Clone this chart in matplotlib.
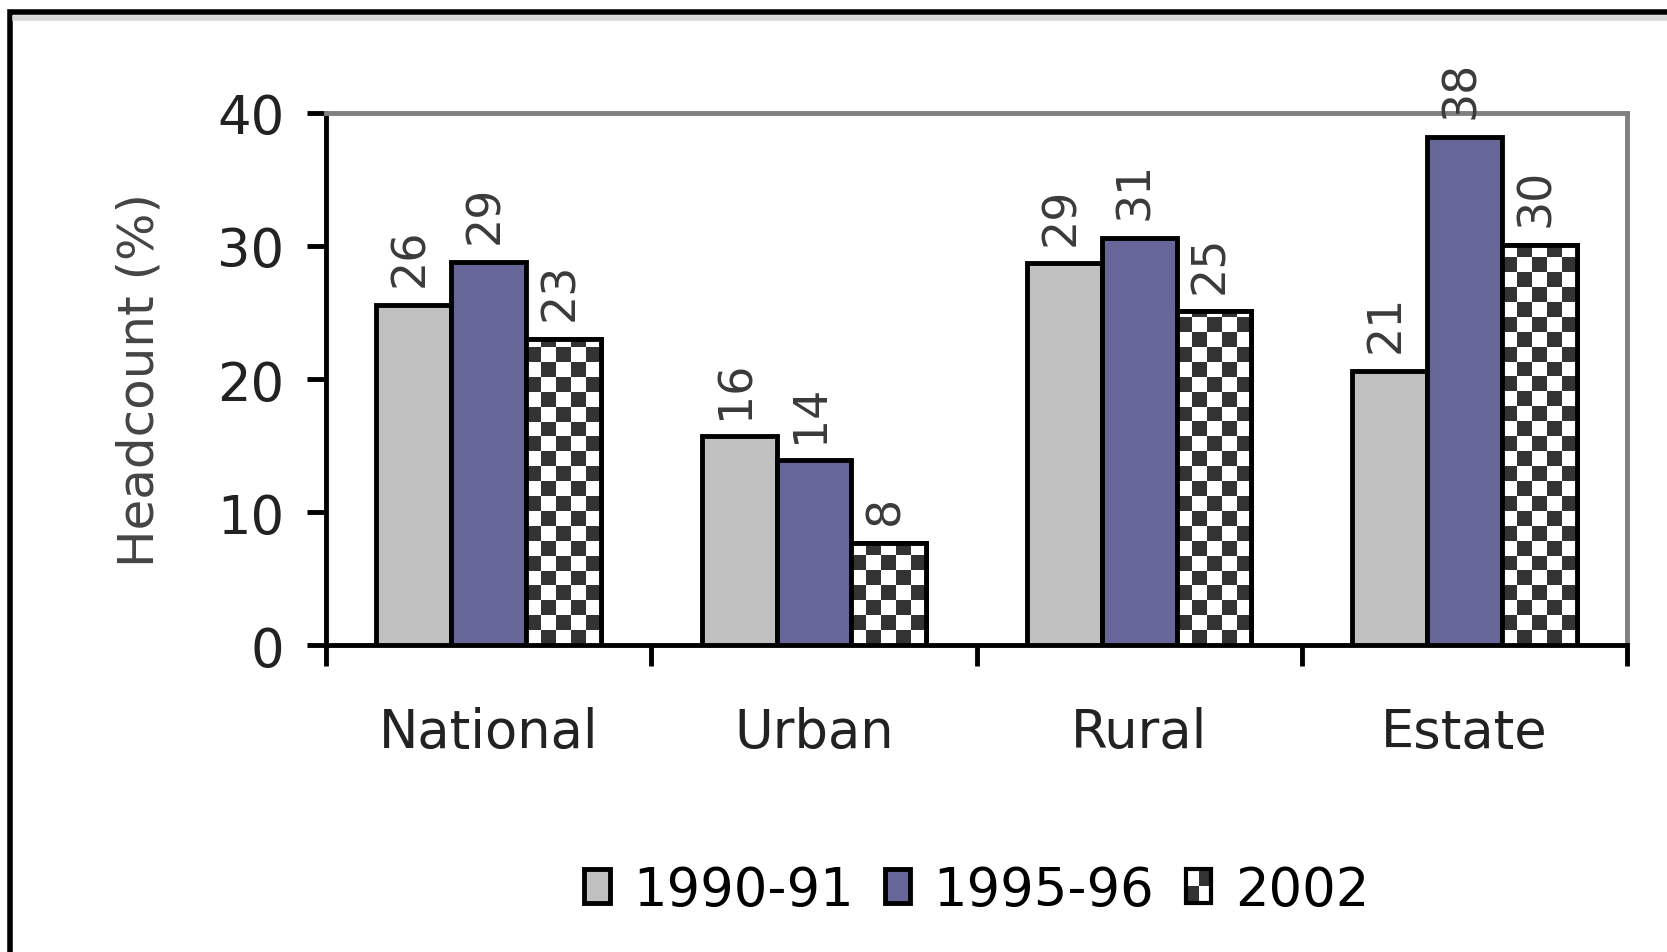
import numpy as np
import matplotlib.pyplot as plt
from matplotlib.patches import Rectangle
from matplotlib.colors import ListedColormap
from matplotlib.legend_handler import HandlerBase

plt.rcParams['font.family'] = ['DejaVu Sans']

categories = ["National", "Urban", "Rural", "Estate"]
series_names = ["1990-91", "1995-96", "2002"]
v_1990 = [25.6, 15.7, 28.7, 20.6]
v_1995 = [28.8, 13.9, 30.6, 38.2]
v_2002 = [23.0, 7.7, 25.1, 30.1]
yticks = [0, 10, 20, 30, 40]

DARK = "#333333"
checker_cmap = ListedColormap(["white", DARK])


class CheckerHandler(HandlerBase):
    # small 2x2 checker square for the legend
    def create_artists(self, legend, orig_handle, xdescent, ydescent, width, height, fontsize, trans):
        x0, y0 = -xdescent, -ydescent
        hw, hh = width / 2, height / 2
        bg = Rectangle((x0, y0), width, height, facecolor="white", lw=0, transform=trans)
        d1 = Rectangle((x0 + hw, y0 + hh), hw, hh, facecolor=DARK, lw=0, transform=trans)
        d2 = Rectangle((x0, y0), hw, hh, facecolor=DARK, lw=0, transform=trans)
        box = Rectangle((x0, y0), width, height, fill=False, edgecolor="black", lw=3, transform=trans)
        return [bg, d1, d2, box]


fig = plt.figure(figsize=(16.67, 9.53), dpi=100)
ax = fig.add_axes([0.1956, 0.3221, 0.7805, 0.5583])

# outer frame of the original picture
fig.patches.append(Rectangle((0.006, -0.05), 1.1, 1.036, transform=fig.transFigure,
                             fill=False, lw=4, edgecolor="black"))
fig.lines.append(plt.Line2D([0.009, 1.0], [0.9805, 0.9805], transform=fig.transFigure,
                            color="#d8d8d8", lw=4))

x = np.arange(len(categories)) + 0.5
w = 0.23
edge = dict(edgecolor="black", linewidth=3.5)

b1 = ax.bar(x - w, v_1990, w, color="#c0c0c0", zorder=3, **edge)
b2 = ax.bar(x, v_1995, w, color="#666699", zorder=3, **edge)
b3 = ax.bar(x + w, v_2002, w, color="white", zorder=3, **edge)

# checkerboard fill for the 2002 bars
row_h = 1.12
for bar in b3:
    bx, by = bar.get_x(), bar.get_y()
    bw, bh = bar.get_width(), bar.get_height()
    ncol = 5
    nrow = int(np.ceil(bh / row_h))
    cb = (np.add.outer(np.arange(nrow), np.arange(ncol)) % 2).astype(float)
    im = ax.imshow(cb, cmap=checker_cmap, extent=(bx, bx + bw, by, by + nrow * row_h),
                   origin="lower", aspect="auto", interpolation="nearest", zorder=3.5)
    im.set_clip_path(bar)
    ax.add_patch(Rectangle((bx, by), bw, bh, fill=False, edgecolor="black", lw=3.5, zorder=4))

for bars, vals in [(b1, v_1990), (b2, v_1995), (b3, v_2002)]:
    for bar, v in zip(bars, vals):
        ax.text(bar.get_x() + bar.get_width() / 2 - 0.01, v + 1.4, f"{v:.0f}", rotation=90,
                ha="center", va="bottom", fontsize=33, color="#3a3a3a", zorder=5)

ax.set_xlim(0, len(categories))
ax.set_ylim(0, 40)
ax.set_yticks(yticks)
ax.set_yticklabels([str(t) for t in yticks], fontsize=38, color="#222222")
ax.set_xticks(np.arange(len(categories) + 1))
ax.set_xticklabels([])
ax.set_xticks(x, minor=True)
ax.set_xticklabels(categories, minor=True, fontsize=38, color="#222222")
ax.tick_params(axis="x", which="major", direction="out", length=15, width=3.5, color="black")
ax.tick_params(axis="x", which="minor", length=0, pad=44)
ax.tick_params(axis="y", direction="out", length=14, width=3.5, pad=16)

for s in ["left", "bottom"]:
    ax.spines[s].set_color("black")
    ax.spines[s].set_linewidth(3.5)
for s in ["top", "right"]:
    ax.spines[s].set_color("#808080")
    ax.spines[s].set_linewidth(3.5)

ax.set_ylabel("Headcount (%)", fontsize=36, color="#444444")
ax.yaxis.set_label_coords(-0.125, 0.5)

ax.legend(handles=[b1, b2, b3], labels=series_names, loc="center", bbox_to_anchor=(0.5, -0.46),
          ncol=3, frameon=False, fontsize=38, handlelength=0.48, handleheight=0.6,
          handletextpad=0.44, columnspacing=0.6, handler_map={b3: CheckerHandler()})

fig.savefig("out.png", dpi=100)
